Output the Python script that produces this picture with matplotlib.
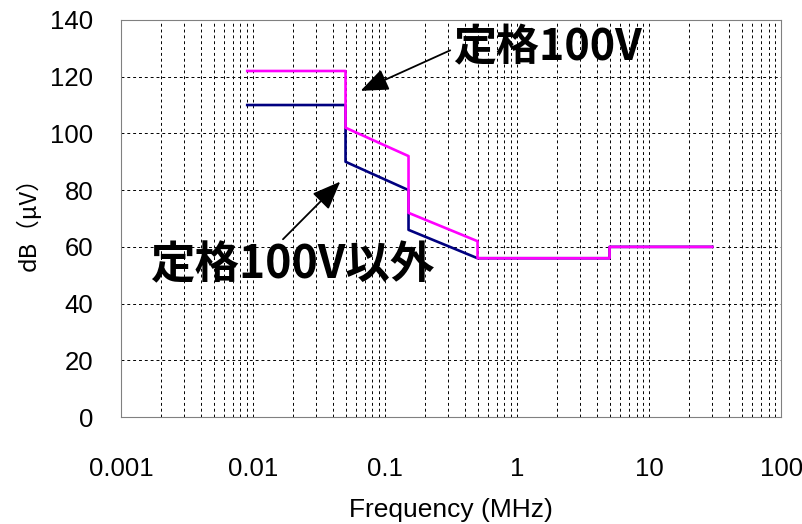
import matplotlib
matplotlib.use("Agg")
import matplotlib.pyplot as plt

plt.rcParams["font.family"] = ["Liberation Sans", "Noto Sans CJK JP", "DejaVu Sans"]

# rated 100V limit (magenta)
freq_100v = [0.009, 0.05, 0.05, 0.15, 0.15, 0.5, 0.5, 5, 5, 30]
level_100v = [122, 122, 102, 92, 72, 62, 56, 56, 60, 60]

# other than rated 100V (navy)
freq_other = [0.009, 0.05, 0.05, 0.15, 0.15, 0.5, 0.5, 5, 5, 30]
level_other = [110, 110, 90, 80, 66, 56, 56, 56, 60, 60]

x_ticks = [0.001, 0.01, 0.1, 1, 10, 100]
x_labels = ["0.001", "0.01", "0.1", "1", "10", "100"]
y_ticks = [0, 20, 40, 60, 80, 100, 120, 140]

fig = plt.figure(figsize=(8.03, 5.24), dpi=100)
ax = fig.add_axes([0.151, 0.204, 0.822, 0.758])

ax.plot(freq_other, level_other, color="#000080", linewidth=1.9)
ax.plot(freq_100v, level_100v, color="#FF00FF", linewidth=1.9)

ax.set_xscale("log")
ax.set_xlim(0.001, 100)
ax.set_ylim(0, 140)
ax.set_xticks(x_ticks)
ax.set_xticklabels(x_labels)
ax.set_yticks(y_ticks)

ax.grid(True, which="major", axis="both", color="black", linestyle=(0, (3, 3)), linewidth=0.7)
ax.grid(True, which="minor", axis="x", color="black", linestyle=(0, (3, 3)), linewidth=0.7)
ax.tick_params(axis="both", which="both", length=0, labelsize=18.5)
ax.tick_params(axis="x", pad=29)
ax.tick_params(axis="y", pad=20)
for s in ax.spines.values():
    s.set_color("#808080")
    s.set_linewidth(0.8)

ax.set_xlabel("Frequency (MHz)", fontsize=19, labelpad=12)
ax.set_ylabel("dB（μV）", fontsize=17, labelpad=7, family=["Noto Sans CJK JP", "DejaVu Sans"])

cjk = ["Noto Sans CJK JP", "DejaVu Sans"]
arrow = dict(arrowstyle="-|>,head_length=0.55,head_width=0.22", color="black", lw=1.3,
             shrinkA=0, shrinkB=0)
ax.annotate("定格100V", xy=(0.065, 115), xytext=(1.69, 130.5), textcoords="data",
            fontsize=31, fontweight="bold", family=cjk, ha="center", va="center",
            arrowprops=dict(arrow, relpos=(0, 0.45)))
ax.annotate("定格100V以外", xy=(0.0456, 83), xytext=(0.0197, 53.6), textcoords="data",
            fontsize=32, fontweight="bold", family=cjk, ha="center", va="center",
            arrowprops=dict(arrow, relpos=(0.45, 0.95)))

fig.savefig("out.png", dpi=100)
